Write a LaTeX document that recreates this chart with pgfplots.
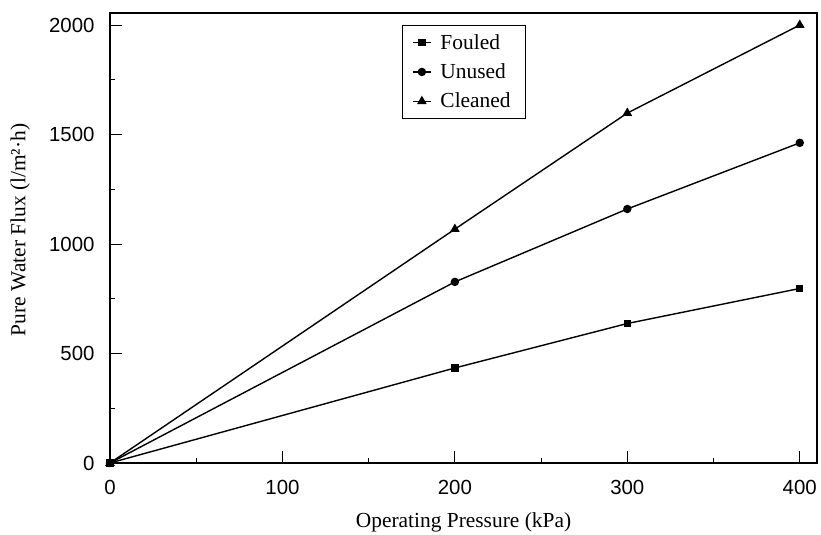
\documentclass[border=0pt]{standalone}
\usepackage{pgfplots}
\pgfplotsset{compat=1.18}
\usepackage{fontspec}
\setmainfont{Liberation Serif}
\newfontfamily\arialfont{Liberation Sans}
\usetikzlibrary{calc}
\begin{document}
\begin{tikzpicture}
\begin{axis}[
  name=ax,
  scale only axis,
  width=707bp, height=450bp,
  xmin=0, xmax=410, ymin=0, ymax=2055,
  xtick={0,100,200,300,400},
  ytick={0,500,1000,1500,2000},
  minor x tick num=1, minor y tick num=1,
  tick pos=left,
  tick align=inside,
  major tick length=12bp, minor tick length=5bp,
  axis line style={line width=1.6bp},
  every major tick/.append style={black, line width=1bp},
  every minor tick/.append style={black, line width=0.8bp},
  /pgf/number format/assume math mode=true,
  /pgf/number format/1000 sep={},
  tick label style={font=\arialfont\fontsize{20.5}{24}\selectfont},
  xticklabel style={yshift=-14bp},
  yticklabel style={xshift=-12bp},
  xlabel={Operating Pressure (kPa)},
  ylabel={Pure Water Flux (l/m²·h)},
  label style={font=\fontsize{21.5}{25}\selectfont},
  xlabel style={at={(axis description cs:0.5,-0.131)}, anchor=center},
  ylabel style={at={(axis description cs:-0.127,0.518)}, anchor=center},
  legend style={at={(rel axis cs:0.413,0.973)}, anchor=north west,
    draw=black, line width=0.6bp, font=\fontsize{21.5}{26}\selectfont,
    inner xsep=10bp, inner ysep=7bp, row sep=9bp,
    cells={anchor=west, inner xsep=4bp}},
  legend image code/.code={
    \draw[#1, line width=1.2bp] (0cm,0cm) -- (18bp,0cm);
    \path[#1] plot coordinates {(9bp,0cm)};
  },
  every axis plot/.append style={black, line width=1.4bp},
]
\addplot[mark=square*, mark size=3bp] coordinates {(0,0) (200,434) (300,637) (400,797)};
\addlegendentry{\hspace*{7bp}Fouled}
\addplot[mark=*, mark size=3.5bp] coordinates {(0,0) (200,827) (300,1160) (400,1462)};
\addlegendentry{\hspace*{7bp}Unused}
\addplot[mark=triangle*, mark size=4.2bp] coordinates {(0,0) (200,1068) (300,1598) (400,2000)};
\addlegendentry{\hspace*{7bp}Cleaned\hspace*{3bp}}
\end{axis}
\pgfresetboundingbox
\path ($(ax.south west)+(-110bp,-72bp)$) rectangle ($(ax.north east)+(4bp,13bp)$);
\end{tikzpicture}
\end{document}
